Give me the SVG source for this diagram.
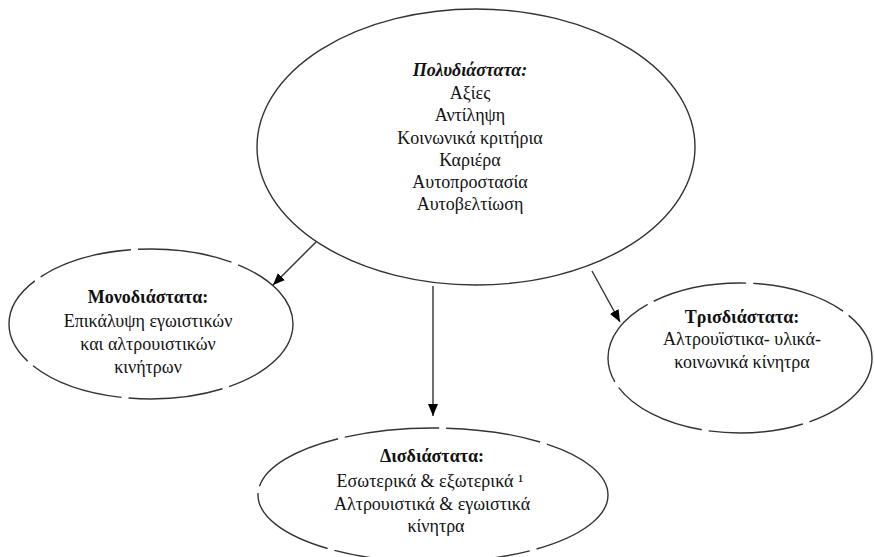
<svg xmlns="http://www.w3.org/2000/svg" width="874" height="557" viewBox="0 0 874 557">
<style>
.node ellipse{fill:#fff;stroke:#333;stroke-width:1.4}
.dash{stroke-dasharray:95 7}
text{font-family:"Liberation Serif","Times New Roman",serif;font-size:18px;fill:#111;text-anchor:middle}
.t{font-weight:bold}
.ti{font-weight:bold;font-style:italic}
.conn line{stroke:#333;stroke-width:1.4}
</style>
<defs>
<marker id="ah" viewBox="0 0 12 10" refX="12" refY="5" markerWidth="12" markerHeight="10" markerUnits="userSpaceOnUse" orient="auto">
<path d="M0,0 L12,5 L0,10 Z" fill="#000"/>
</marker>
</defs>
<rect width="874" height="557" fill="#fff"/>
<g class="conn">
<line x1="316" y1="242" x2="273" y2="285" marker-end="url(#ah)"/>
<line x1="433" y1="286" x2="433" y2="416" marker-end="url(#ah)"/>
<line x1="592" y1="271" x2="620" y2="322" marker-end="url(#ah)"/>
</g>
<g id="poly" class="node">
<ellipse cx="476" cy="147" rx="219" ry="138"/>
<text x="470" y="76" class="ti">Πολυδιάστατα:</text>
<text x="470" y="99">Αξίες</text>
<text x="470" y="121">Αντίληψη</text>
<text x="470" y="144">Κοινωνικά κριτήρια</text>
<text x="470" y="166">Καριέρα</text>
<text x="470" y="188">Αυτοπροστασία</text>
<text x="470" y="210">Αυτοβελτίωση</text>
</g>
<g id="mono" class="node">
<ellipse class="dash" cx="151" cy="324" rx="142" ry="75"/>
<text x="148" y="303" class="t">Μονοδιάστατα:</text>
<text x="148" y="327">Επικάλυψη εγωιστικών</text>
<text x="148" y="350">και αλτρουιστικών</text>
<text x="148" y="373">κινήτρων</text>
</g>
<g id="tri" class="node">
<ellipse class="dash" cx="740" cy="358" rx="132" ry="75"/>
<text x="742" y="323" class="t">Τρισδιάστατα:</text>
<text x="742" y="345">Αλτρουϊστικα- υλικά-</text>
<text x="742" y="368">κοινωνικά κίνητρα</text>
</g>
<g id="dis" class="node">
<ellipse class="dash" cx="433" cy="495" rx="175" ry="67"/>
<text x="432" y="462" class="t">Δισδιάστατα:</text>
<text x="430" y="487">Εσωτερικά &amp; εξωτερικά ¹</text>
<text x="432" y="510">Αλτρουιστικά &amp; εγωιστικά</text>
<text x="436" y="532">κίνητρα</text>
</g>
</svg>
